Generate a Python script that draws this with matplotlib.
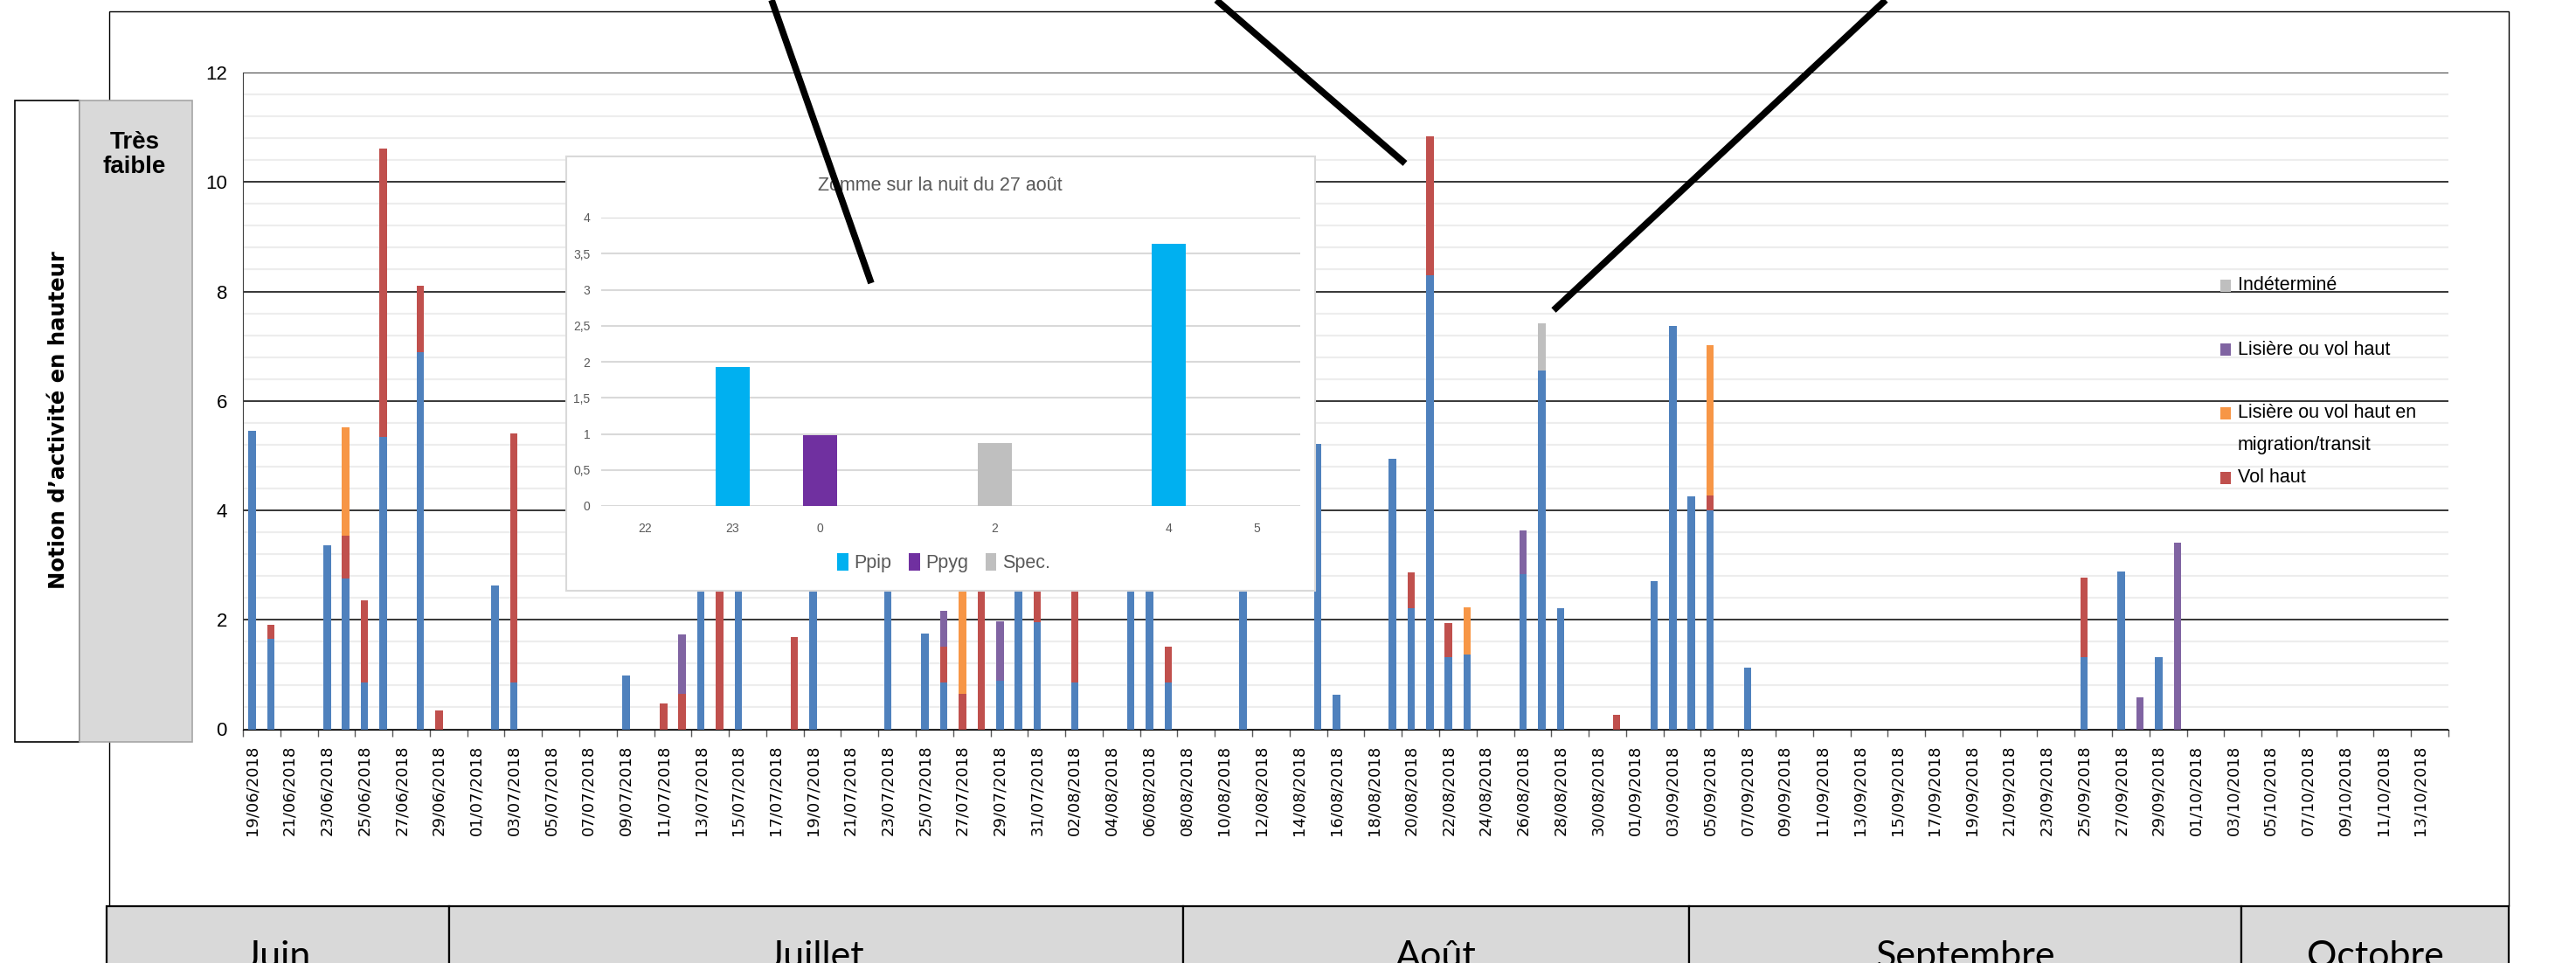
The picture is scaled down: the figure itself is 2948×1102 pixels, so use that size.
import matplotlib
matplotlib.use("Agg")
import matplotlib.pyplot as plt
import numpy as np
import pandas as pd
from matplotlib import font_manager
from matplotlib.patches import Rectangle
from matplotlib.lines import Line2D
from matplotlib.ticker import FixedLocator, MultipleLocator, FuncFormatter

W, H = 2948, 1102

# nuits avec contacts (les autres nuits = 0)
NUITS = ["19/06", "20/06", "23/06", "24/06", "25/06", "26/06", "28/06", "29/06",
         "02/07", "03/07", "09/07", "11/07", "12/07", "13/07", "14/07", "15/07",
         "18/07", "19/07", "23/07", "25/07", "26/07", "27/07", "28/07", "29/07",
         "30/07", "31/07", "02/08", "05/08", "06/08", "07/08", "11/08", "15/08",
         "16/08", "19/08", "20/08", "21/08", "22/08", "23/08", "26/08", "27/08",
         "28/08", "31/08", "02/09", "03/09", "04/09", "05/09", "07/09", "25/09",
         "27/09", "28/09", "29/09", "30/09"]
BLEU = [5.45, 1.65, 3.36, 2.75, 0.86, 5.34, 6.89, 0,
        2.63, 0.86, 0.98, 0, 0, 3.1, 0, 3.3,
        0, 3.0, 2.9, 1.75, 0.86, 0, 0, 0.88,
        3.0, 1.96, 0.86, 3.4, 3.0, 0.86, 3.2, 5.21,
        0.63, 4.95, 2.21, 8.29, 1.31, 1.37, 2.83, 6.56,
        2.21, 0, 2.71, 7.37, 4.25, 4.0, 1.12, 1.31,
        2.89, 0, 1.31, 0]
VOL_HAUT = [0, 0.26, 0, 0.78, 1.49, 5.27, 1.22, 0.35,
            0, 4.54, 0, 0.47, 0.64, 0, 3.0, 0,
            1.69, 0, 0, 0, 0.65, 0.64, 3.2, 0,
            0, 1.2, 2.0, 0, 0, 0.65, 0, 0,
            0, 0, 0.65, 2.55, 0.63, 0, 0, 0,
            0, 0.26, 0, 0, 0, 0.27, 0, 1.46,
            0, 0, 0, 0]
MIGRATION = [0, 0, 0, 1.99, 0, 0, 0, 0,
             0, 0, 0, 0, 0, 0, 0, 0,
             0, 0, 0, 0, 0, 2.6, 0, 0,
             0, 0, 0, 0, 0, 0, 0, 0,
             0, 0, 0, 0, 0, 0.86, 0, 0,
             0, 0, 0, 0, 0, 2.74, 0, 0,
             0, 0, 0, 0]
LISIERE = [0, 0, 0, 0, 0, 0, 0, 0,
           0, 0, 0, 0, 1.10, 0, 0, 0,
           0, 0, 0, 0, 0.65, 0, 0, 1.10,
           0, 0, 0, 0, 0, 0, 0, 0,
           0, 0, 0, 0, 0, 0, 0.80, 0,
           0, 0, 0, 0, 0, 0, 0, 0,
           0, 0.58, 0, 3.41]
INDETERMINE = [0] * 39 + [0.86] + [0] * 12

DEBUT, FIN = "2018-06-19", "2018-10-14"

# zoom sur la nuit du 27 aout
HEURES = ["22", "23", "0", "1", "2", "3", "4", "5"]
PPIP = [0, 1.93, 0, 0, 0, 0, 3.64, 0]
PPYG = [0, 0, 0.98, 0, 0, 0, 0, 0]
SPEC = [0, 0, 0, 0, 0.87, 0, 0, 0]

MOIS = ["Juin", "Juillet", "Août", "Septembre", "Octobre"]
MOIS_BORDS = [122, 514, 1354, 1933, 2565, 2871]

names = {f.name for f in font_manager.fontManager.ttflist}
NARROW = "Liberation Sans Narrow" if "Liberation Sans Narrow" in names else "Liberation Sans"


def fx(x):
    return x / W


def fy(y):
    return 1 - y / H


fig = plt.figure(figsize=(W / 100, H / 100), dpi=100)


def rect(x0, y0, x1, y1, **kw):
    return Rectangle((fx(x0), fy(y1)), (x1 - x0) / W, (y1 - y0) / H,
                     transform=fig.transFigure, **kw)


# cadre general
fig.add_artist(rect(124.6, 12.5, 2871, 1037, fill=False, edgecolor="black", lw=1.0, zorder=1))

# ---- graphique principal
dates = pd.date_range(DEBUT, FIN)
idx = pd.to_datetime([d + "/2018" for d in NUITS], format="%d/%m/%Y")
series = [
    (BLEU, "#4F81BD"),
    (VOL_HAUT, "#C0504D"),
    (MIGRATION, "#F79646"),
    (LISIERE, "#8064A2"),
    (INDETERMINE, "#BFBFBF"),
]

ax = fig.add_axes([fx(278), fy(834.5), (2802 - 278) / W, (834.5 - 83) / H])
ax.set_zorder(0)
x = np.arange(len(dates))
bottom = np.zeros(len(dates))
for vals, col in series:
    v = pd.Series(vals, index=idx).reindex(dates, fill_value=0).values
    ax.bar(x, v, bottom=bottom, width=0.4, color=col, zorder=2)
    bottom += v

ax.set_xlim(-0.5, len(dates) - 0.5)
ax.set_ylim(0, 12)
ax.set_yticks(np.arange(0, 13, 2))
ax.yaxis.set_minor_locator(MultipleLocator(0.4))
ax.set_axisbelow(True)
ax.grid(which="minor", axis="y", color="#EDEDED", lw=1.6)
ax.grid(which="major", axis="y", color="black", lw=1.1)
ax.tick_params(axis="y", which="both", length=0, pad=13, labelsize=16)
for t in ax.get_yticklabels():
    t.set_fontfamily(NARROW)

ax.set_xticks(x[::2])
ax.set_xticklabels([d.strftime("%d/%m/%Y") for d in dates[::2]], rotation=90,
                   fontsize=13, fontfamily="DejaVu Sans")
ax.xaxis.set_minor_locator(FixedLocator(np.arange(-0.5, len(dates), 2)))
ax.tick_params(axis="x", which="major", length=0, pad=13)
ax.tick_params(axis="x", which="minor", length=6, width=1.0, color="#595959")
for s in ["top", "right"]:
    ax.spines[s].set_visible(False)
ax.spines["left"].set_color("#404040")
ax.spines["bottom"].set_color("black")

# legende principale
leg_items = [("#BFBFBF", "Indéterminé", 327), ("#8064A2", "Lisière ou vol haut", 400),
             ("#F79646", "Lisière ou vol haut en", 473), ("#C0504D", "Vol haut", 547)]
for col, lab, yy in leg_items:
    fig.add_artist(rect(2541, yy - 7, 2553, yy + 7, facecolor=col, edgecolor="none", zorder=4))
    fig.text(fx(2561), fy(yy), lab, fontsize=15.5, fontfamily=NARROW, va="center", ha="left", zorder=4)
fig.text(fx(2561), fy(510), "migration/transit", fontsize=15.5, fontfamily=NARROW,
         va="center", ha="left", zorder=4)

# ---- panneau gauche
fig.add_artist(rect(17, 115, 91, 849, facecolor="white", edgecolor="black", lw=1.2, zorder=2))
fig.add_artist(rect(91, 115, 220, 849, facecolor="#D9D9D9", edgecolor="#A6A6A6", lw=1.2, zorder=2))
fig.text(fx(154), fy(177), "Très\nfaible", fontsize=20, fontweight="bold", fontfamily=NARROW,
         ha="center", va="center", linespacing=1.05, zorder=3)
fig.text(fx(67), fy(481), "Notion d\u2019activité en hauteur", rotation=90, fontsize=17.5,
         fontweight="bold", fontfamily="DejaVu Sans", ha="center", va="center", zorder=3)

# ---- bandeau des mois
for i, m in enumerate(MOIS):
    x0, x1 = MOIS_BORDS[i], MOIS_BORDS[i + 1]
    fig.add_artist(rect(x0, 1037, x1, 1140, facecolor="#D9D9D9", edgecolor="black", lw=1.6, zorder=2))
    fig.text(fx((x0 + x1) / 2), fy(1107), m, fontsize=31, fontfamily="Lato", color="black",
             ha="center", va="baseline", zorder=3)

# ---- encart zoom
fig.add_artist(rect(648, 179, 1505, 676, facecolor="white", edgecolor="#D9D9D9", lw=1.5, zorder=5))
ax2 = fig.add_axes([fx(688), fy(579), 800 / W, (579 - 249) / H])
ax2.set_zorder(6)
ax2.patch.set_alpha(0)
xi = np.arange(len(HEURES))
b2 = np.zeros(len(HEURES))
for vals, col, lab in [(PPIP, "#00B0F0", "Ppip"), (PPYG, "#7030A0", "Ppyg"), (SPEC, "#BFBFBF", "Spec.")]:
    ax2.bar(xi, vals, bottom=b2, width=0.39, color=col, label=lab, zorder=2)
    b2 += np.array(vals)
ax2.set_xlim(-0.5, len(HEURES) - 0.5)
ax2.set_ylim(0, 4)
ax2.set_yticks(np.arange(0, 4.01, 0.5))
ax2.yaxis.set_major_formatter(FuncFormatter(lambda v, p: f"{v:g}".replace(".", ",")))
ax2.set_xticks(xi)
ax2.set_xticklabels([h if h not in ("1", "3") else "" for h in HEURES])
ax2.grid(axis="y", color="#D9D9D9", lw=1.5, zorder=0)
ax2.set_axisbelow(True)
for s in ax2.spines.values():
    s.set_visible(False)
ax2.tick_params(axis="both", length=0, labelsize=10, labelcolor="#595959")
ax2.tick_params(axis="y", pad=9)
ax2.tick_params(axis="x", pad=14)
for t in ax2.get_xticklabels() + ax2.get_yticklabels():
    t.set_fontfamily(NARROW)
fig.text(fx(1076), fy(212), "Zomme sur la nuit du 27 août", fontsize=15.5, fontfamily=NARROW,
         color="#595959", ha="center", va="center", zorder=7)
leg2 = ax2.legend(ncol=3, loc="center", bbox_to_anchor=(fx(1080), fy(644)),
                  bbox_transform=fig.transFigure, frameon=False, handlelength=0.6,
                  handleheight=1.1, handletextpad=0.3, columnspacing=0.9,
                  prop={"family": NARROW, "size": 15.5})
for t in leg2.get_texts():
    t.set_color("#595959")

# ---- traits de rappel
for (x0, y0), (x1, y1) in [((883, 0), (997, 324)), ((1392, 0), (1608, 187)), ((2158, 0), (1778, 355))]:
    fig.add_artist(Line2D([fx(x0), fx(x1)], [fy(y0), fy(y1)], transform=fig.transFigure,
                          color="black", lw=5.5, solid_capstyle="butt", zorder=10))

fig.savefig("out.png", dpi=100)
